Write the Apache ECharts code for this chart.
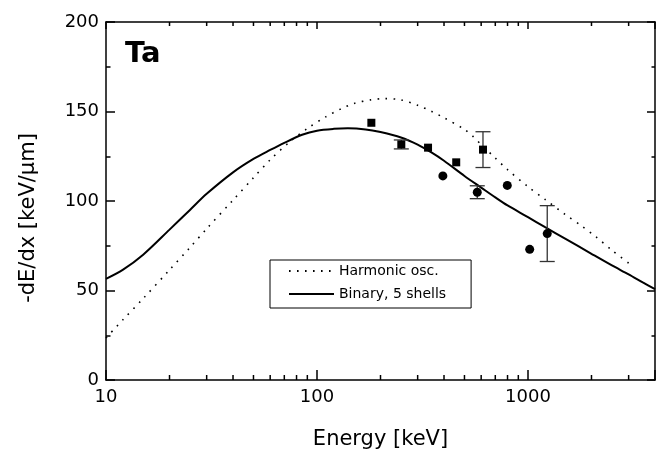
<!DOCTYPE html>
<html>
<head>
<meta charset="utf-8">
<script src="https://cdn.jsdelivr.net/npm/echarts@6/dist/echarts.min.js"></script>
<style>html,body{margin:0;padding:0;background:#fff}#c{width:666px;height:452px}</style>
</head>
<body>
<div id="c"></div>
<script>
// ---- data ----
const harmEnergy = [10,12,15,20,25,30,40,50,60,75,90,110,130,150,180,210,250,300,350,400,500,550,600,700,800,1000,1200,1500,1800,2100,2500,3100];
const harmValue  = [23.5,33.5,45.5,61.5,74,84.5,100.5,113,123,133.5,140.5,147,151.5,154.5,156.5,157.2,156.5,153.5,150,146.5,140,136,131.5,124,117.5,108,101,92.5,86,80,72.5,64];
const binEnergy = [10,12,15,20,25,30,40,50,60,70,85,100,120,140,170,200,250,300,350,400,500,600,700,800,1000,1200,1500,2000,2500,3000,3500,4000];
const binValue  = [56.5,61.5,70,84,95,104,116,123.5,128.5,132.5,137,139.3,140.3,140.6,140,138.5,135.5,131.5,127,122.5,114,107.5,102,97.5,91,85.5,79,70.5,64,59,54.5,50.7];
const sqEnergy = [181,251,336,457,612];
const sqValue  = [143.7,131.6,129.8,121.6,128.7];
const sqErr    = [0,2.5,0,0,10];
const ciEnergy = [395,575,798,1019,1234];
const ciValue  = [114,104.9,108.7,73,81.8];
const ciErr    = [0,3.6,0,0,15.6];
const xTickLabels = [10,100,1000];
const xMinorTicks = [20,30,40,50,60,70,80,90,200,300,400,500,600,700,800,900,2000,3000];
const yTicks = [0,50,100,150,200];
const seriesNames = ['Harmonic osc.','Binary, 5 shells'];
const panelLabel = 'Ta';
const xName = 'Energy [keV]';
const yName = '-dE/dx [keV/\u03bcm]';

// ---- build ----
const FONT = 'DejaVu Sans';
const pair = (xs, ys) => xs.map((x, i) => [x, ys[i]]);
const errData = [];
sqEnergy.forEach((e, i) => { if (sqErr[i] > 0) errData.push([e, sqValue[i] - sqErr[i], sqValue[i] + sqErr[i]]); });
ciEnergy.forEach((e, i) => { if (ciErr[i] > 0) errData.push([e, ciValue[i] - ciErr[i], ciValue[i] + ciErr[i]]); });

const chart = echarts.init(document.getElementById('c'), null, {renderer: 'canvas'});
const axisCommonX = {
  type: 'log', logBase: 10, min: 10, max: 4000,
  axisLine: {show: true, onZero: false, lineStyle: {color: '#000', width: 1.5}},
  splitLine: {show: false}
};
const axisCommonY = {
  type: 'value', min: yTicks[0], max: yTicks[yTicks.length - 1], interval: 50,
  axisLine: {show: true, onZero: false, lineStyle: {color: '#000', width: 1.5}},
  splitLine: {show: false}
};
chart.setOption({
  animation: false,
  backgroundColor: '#fff',
  grid: {left: 106, top: 22, right: 11, bottom: 72, containLabel: false},
  xAxis: [
    Object.assign({}, axisCommonX, {
      position: 'bottom',
      axisTick: {show: true, inside: true, length: 10, lineStyle: {color: '#000', width: 1.5}},
      axisLabel: {
        show: true, margin: 8, color: '#000', fontFamily: FONT, fontSize: 18,
        formatter: v => { const r = Math.round(v); return xTickLabels.includes(r) ? String(r) : ''; }
      }
    }),
    Object.assign({}, axisCommonX, {
      position: 'top',
      axisTick: {show: true, inside: true, length: 7, lineStyle: {color: '#000', width: 1.5}},
      axisLabel: {show: false}
    })
  ],
  yAxis: [
    Object.assign({}, axisCommonY, {
      position: 'left',
      axisTick: {show: true, inside: true, length: 9, lineStyle: {color: '#000', width: 1.5}},
      minorTick: {show: true, splitNumber: 2, length: 4.5, lineStyle: {color: '#000', width: 1.5}},
      axisLabel: {show: true, margin: 7, color: '#000', fontFamily: FONT, fontSize: 18}
    }),
    Object.assign({}, axisCommonY, {
      position: 'right',
      axisTick: {show: true, inside: true, length: 8, lineStyle: {color: '#000', width: 1.5}},
      minorTick: {show: true, splitNumber: 2, length: 3.5, lineStyle: {color: '#000', width: 1.5}},
      axisLabel: {show: false}
    })
  ],
  legend: {
    show: true, orient: 'vertical', left: 270, top: 260,
    data: seriesNames,
    itemWidth: 45, itemHeight: 14, itemGap: 7,
    padding: [3, 25, 6, 18],
    borderColor: '#000', borderWidth: 1, borderRadius: 0,
    backgroundColor: '#fff',
    itemStyle: {opacity: 0},
    textStyle: {color: '#000', fontFamily: FONT, fontSize: 14, lineHeight: 16},
    selectedMode: false
  },
  graphic: [
    {type: 'text', left: 125, top: 40, z: 10,
     style: {text: panelLabel, fill: '#000', font: 'bold 29px "' + FONT + '"'}},
    {type: 'text', x: 380.5, y: 440, z: 10,
     style: {text: xName, fill: '#000', font: '21px "' + FONT + '"', align: 'center', verticalAlign: 'middle'}},
    {type: 'text', x: 28.5, y: 218, rotation: Math.PI / 2, z: 10,
     style: {text: yName, fill: '#000', font: '21px "' + FONT + '"', align: 'center', verticalAlign: 'middle'}}
  ],
  series: [
    {
      name: seriesNames[0], type: 'line', xAxisIndex: 0, yAxisIndex: 0,
      data: pair(harmEnergy, harmValue), smooth: 0.3, symbol: 'none', showSymbol: false,
      lineStyle: {color: '#000', width: 1.6, type: [1.6, 6.4]}, itemStyle: {color: '#000'}, z: 3
    },
    {
      name: seriesNames[1], type: 'line', xAxisIndex: 0, yAxisIndex: 0,
      data: pair(binEnergy, binValue), smooth: 0.3, symbol: 'none', showSymbol: false,
      lineStyle: {color: '#000', width: 2, type: 'solid'}, itemStyle: {color: '#000'}, z: 3
    },
    {
      name: 'errors', type: 'custom', xAxisIndex: 0, yAxisIndex: 0, z: 4,
      data: errData, encode: {x: 0, y: [1, 2]},
      renderItem: (params, api) => {
        const x = api.value(0), lo = api.value(1), hi = api.value(2);
        const pt = api.coord([x, hi]), pb = api.coord([x, lo]);
        const hw = 7.5, st = {stroke: '#333', lineWidth: 1.3};
        return {type: 'group', children: [
          {type: 'line', shape: {x1: pt[0], y1: pt[1], x2: pb[0], y2: pb[1]}, style: st},
          {type: 'line', shape: {x1: pt[0] - hw, y1: pt[1], x2: pt[0] + hw, y2: pt[1]}, style: st},
          {type: 'line', shape: {x1: pb[0] - hw, y1: pb[1], x2: pb[0] + hw, y2: pb[1]}, style: st}
        ]};
      }
    },
    {
      name: 'squares', type: 'scatter', xAxisIndex: 0, yAxisIndex: 0, z: 5,
      data: pair(sqEnergy, sqValue), symbol: 'rect', symbolSize: 8, itemStyle: {color: '#000', opacity: 1}
    },
    {
      name: 'circles', type: 'scatter', xAxisIndex: 0, yAxisIndex: 0, z: 5,
      data: pair(ciEnergy, ciValue), symbol: 'circle', symbolSize: 9, itemStyle: {color: '#000', opacity: 1}
    },
    {
      name: 'minorTicks', type: 'custom', xAxisIndex: 0, yAxisIndex: 0, z: 6, clip: false,
      data: xMinorTicks.map(v => [v, yTicks[0]]), encode: {x: 0, y: 1},
      renderItem: (params, api) => {
        const v = api.value(0);
        const pb = api.coord([v, yTicks[0]]), pt = api.coord([v, yTicks[yTicks.length - 1]]);
        const st = {stroke: '#000', lineWidth: 1.5};
        return {type: 'group', children: [
          {type: 'line', shape: {x1: pb[0], y1: pb[1], x2: pb[0], y2: pb[1] - 5}, style: st},
          {type: 'line', shape: {x1: pt[0], y1: pt[1], x2: pt[0], y2: pt[1] + 4}, style: st}
        ]};
      }
    }
  ]
});
</script>
</body>
</html>
